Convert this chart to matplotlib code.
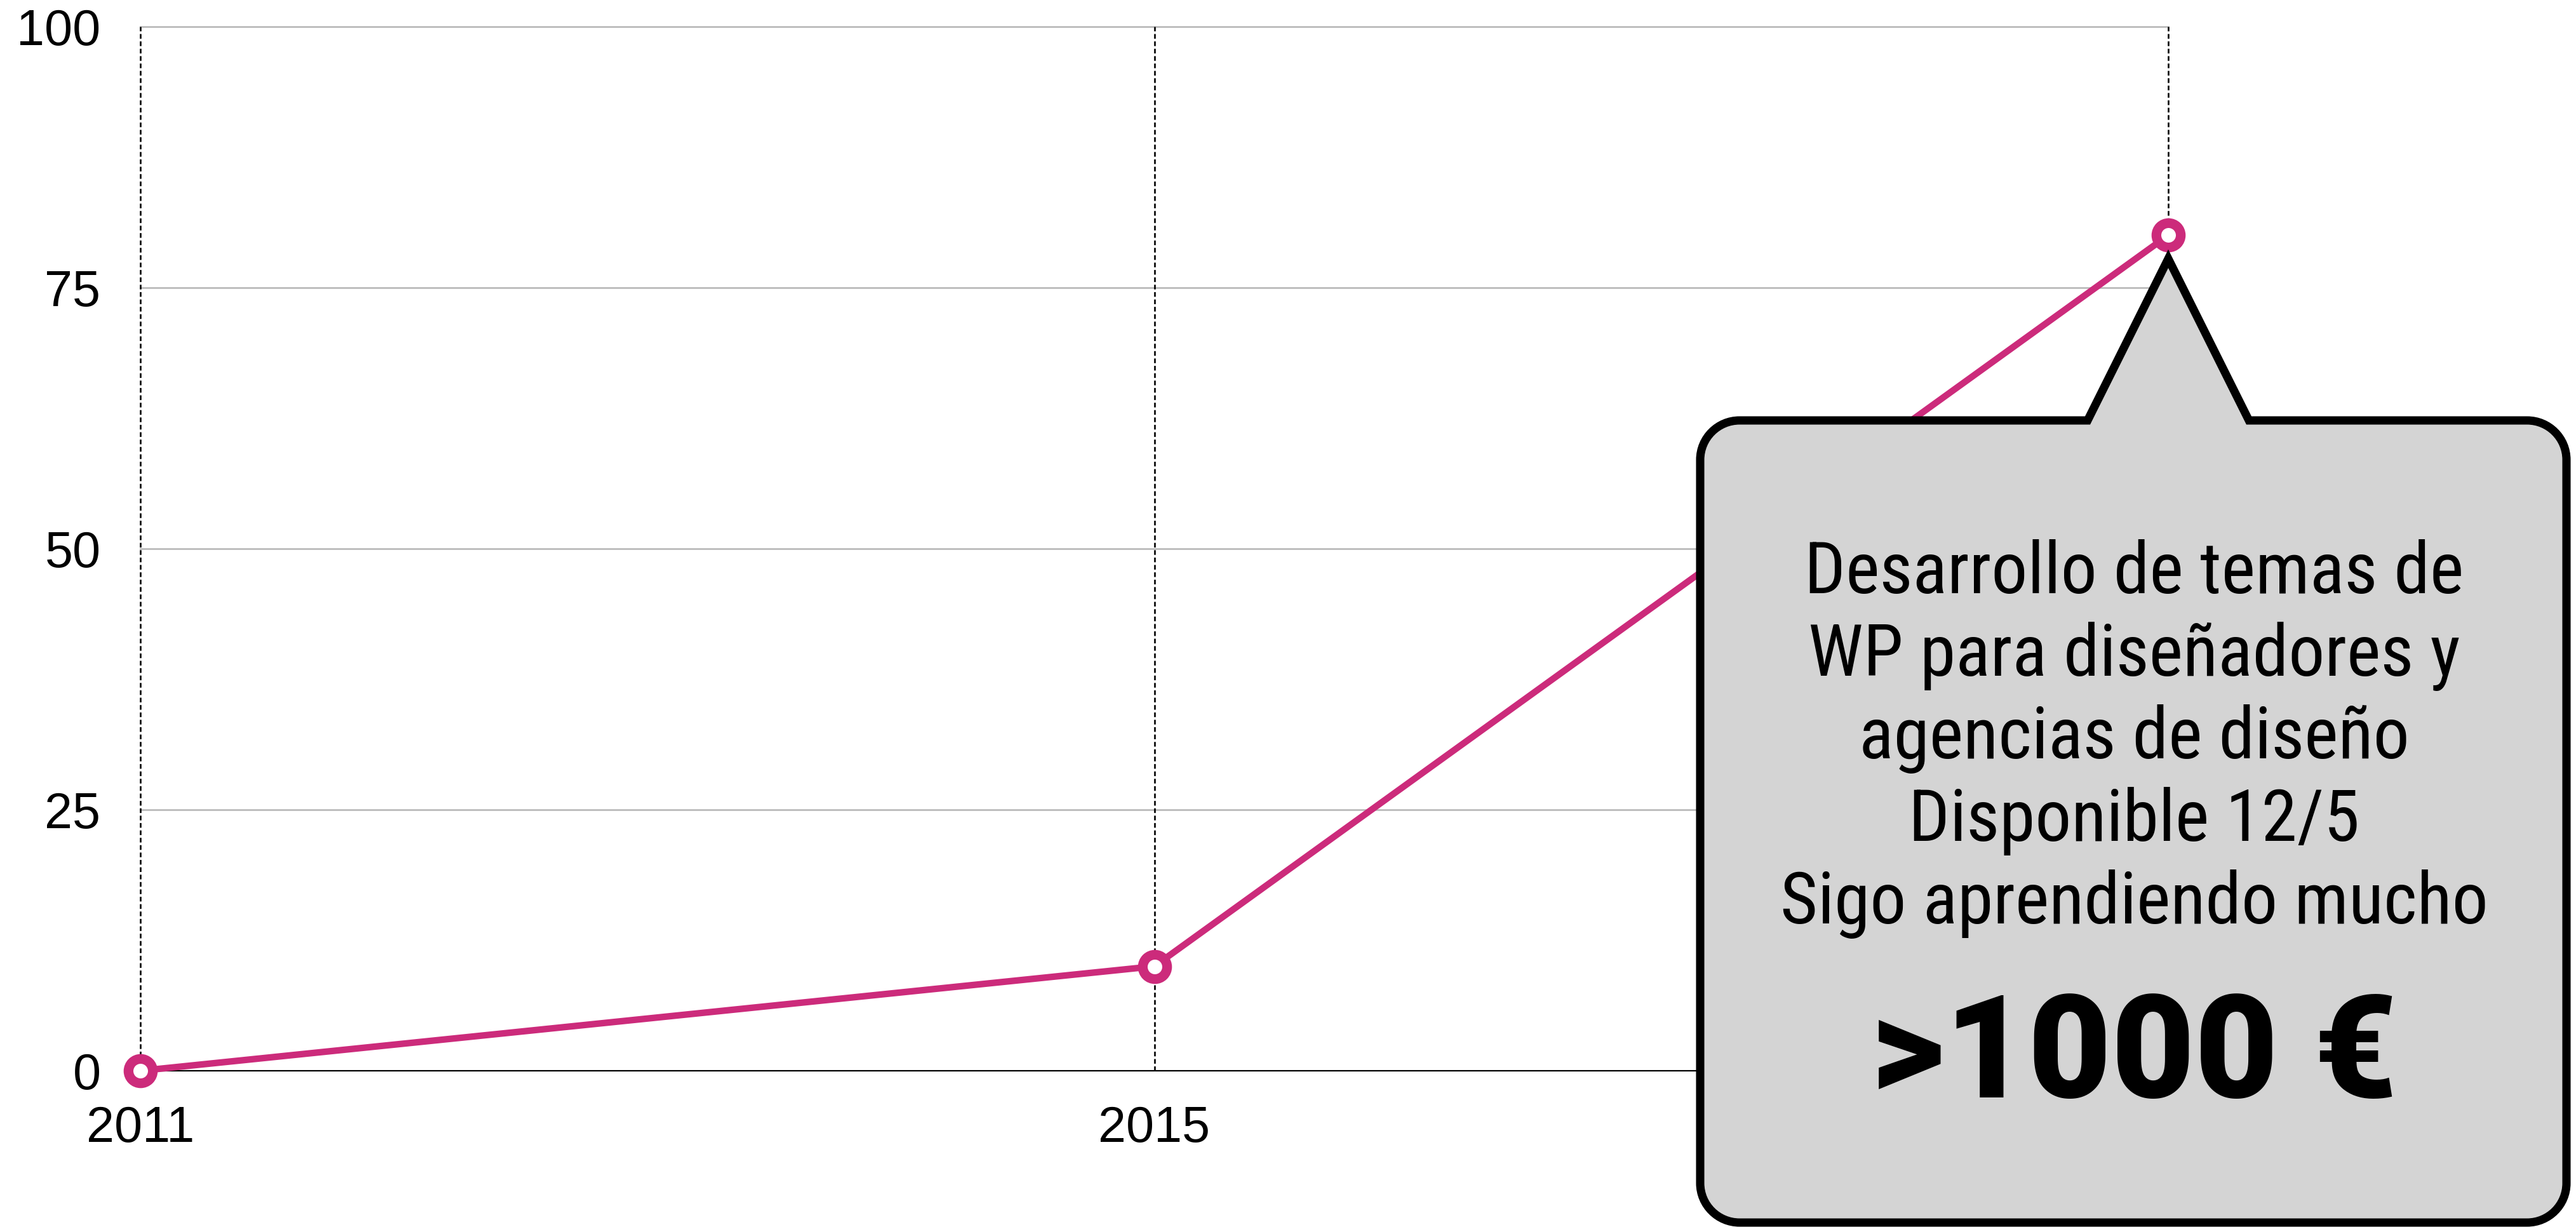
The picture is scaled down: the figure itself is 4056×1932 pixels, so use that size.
import matplotlib
matplotlib.use('Agg')
import matplotlib.pyplot as plt
from matplotlib.path import Path
from matplotlib.patches import PathPatch

# data
years = ['2011', '2015', '2019']
values = [0, 10, 80]
y_ticks = [0, 25, 50, 75, 100]
callout_lines = ['Desarrollo de temas de',
                 'WP para diseñadores y',
                 'agencias de diseño',
                 'Disponible 12/5',
                 'Sigo aprendiendo mucho']
callout_price = '>1000 €'

pink = '#cc2b7b'
W, H = 4056, 1932

fig = plt.figure(figsize=(W / 100, H / 100), dpi=100)
ax = fig.add_axes([221 / W, 246 / H, (3414 - 221) / W, (1686 - 41.5) / H])
xs = list(range(len(years)))
ax.set_xlim(0, len(years) - 1)
ax.set_ylim(0, 100)
for s in ax.spines.values():
    s.set_visible(False)
ax.set_yticks(y_ticks)
ax.set_xticks(xs)
ax.set_xticklabels(years)
ax.tick_params(length=0, labelsize=57)
ax.tick_params(axis='x', pad=39)
ax.tick_params(axis='y', pad=45)
for lab in ax.get_xticklabels() + ax.get_yticklabels():
    lab.set_fontfamily('Liberation Sans')
# last year label sits behind the callout
ax.get_xticklabels()[-1].set_visible(False)

# grid
for v in y_ticks[1:]:
    ax.axhline(v, color='#bbbbbb', lw=2, zorder=1, clip_on=False)
ax.axhline(0, color='black', lw=1.6, zorder=2, clip_on=False)
for x in xs:
    ax.axvline(x, color='black', lw=1.9, ls=(0, (2.8, 1.6)), zorder=2,
               clip_on=False)

# series
ax.plot(xs, values, color=pink, lw=7.4, marker='o', ms=27.6,
        mfc='white', mec=pink, mew=11, zorder=5, clip_on=False)

# callout overlay in pixel coords (y down)
ov = fig.add_axes([0, 0, 1, 1])
ov.set_zorder(3)
ov.set_xlim(0, W)
ov.set_ylim(H, 0)
ov.axis('off')
ov.patch.set_alpha(0)

fig.canvas.draw()
px, py = ax.transData.transform((xs[-1], values[-1]))
apex_x, apex_y = px, (H - py) + 37

left, top, right, bottom = 2677, 662, 4041, 1925
r = 62
k = 0.5523 * r
half = 127
verts = [(apex_x - half, top), (apex_x, apex_y), (apex_x + half, top),
         (right - r, top),
         (right - r + k, top), (right, top + r - k), (right, top + r),
         (right, bottom - r),
         (right, bottom - r + k), (right - r + k, bottom), (right - r, bottom),
         (left + r, bottom),
         (left + r - k, bottom), (left, bottom - r + k), (left, bottom - r),
         (left, top + r),
         (left, top + r - k), (left + r - k, top), (left + r, top),
         (apex_x - half, top)]
codes = [Path.MOVETO, Path.LINETO, Path.LINETO, Path.LINETO,
         Path.CURVE4, Path.CURVE4, Path.CURVE4, Path.LINETO,
         Path.CURVE4, Path.CURVE4, Path.CURVE4, Path.LINETO,
         Path.CURVE4, Path.CURVE4, Path.CURVE4, Path.LINETO,
         Path.CURVE4, Path.CURVE4, Path.CURVE4, Path.CLOSEPOLY]
ov.add_patch(PathPatch(Path(verts, codes), facecolor='#d4d4d4',
                       edgecolor='black', lw=9.4, joinstyle='miter'))

cx = 3360
for i, line in enumerate(callout_lines):
    ov.text(cx, 934 + i * 130, line, ha='center', va='baseline',
            fontsize=82, family=['Roboto Condensed', 'Roboto'],
            fontweight='normal', color='black')
ov.text(cx, 1728, callout_price, ha='center', va='baseline',
        fontsize=163, family='Roboto', fontweight='black', color='black')

fig.savefig('out.png', dpi=100)
